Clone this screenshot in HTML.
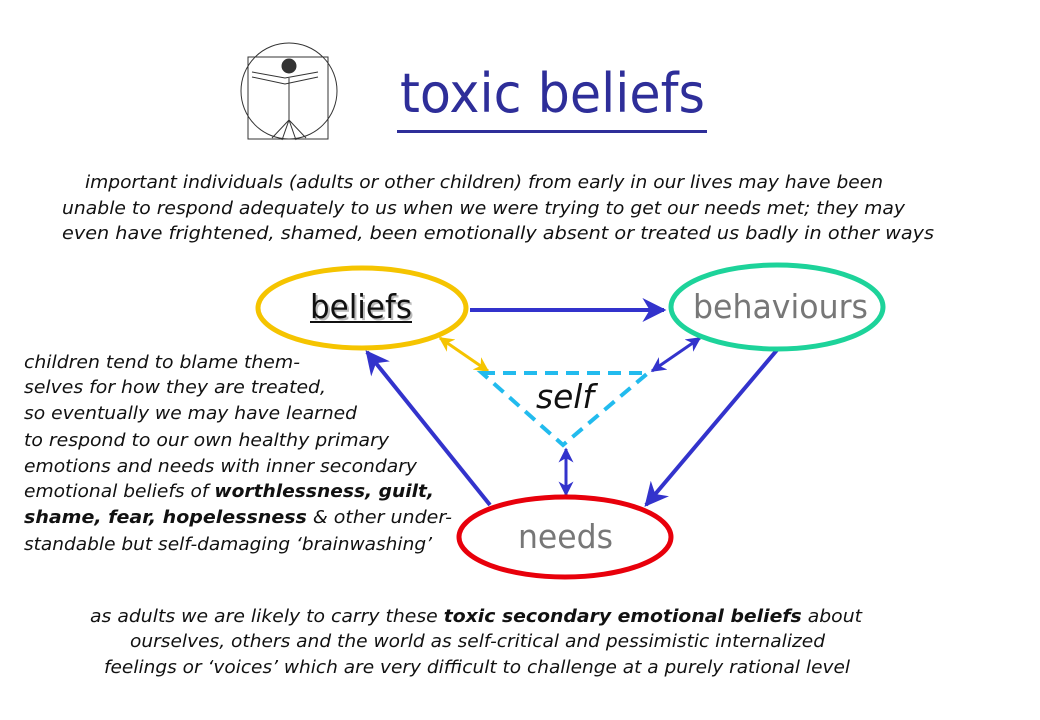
<!DOCTYPE html>
<html><head><meta charset="utf-8"><style>
html,body{margin:0;padding:0;background:#fff;}
svg{display:block;}
text{font-family:"DejaVu Sans","Liberation Sans",sans-serif;}
.it{font-style:italic;font-size:18px;fill:#111;}
</style></head><body>
<svg width="1040" height="720" viewBox="0 0 1040 720" xmlns="http://www.w3.org/2000/svg">
<defs>
<marker id="ab" viewBox="0 0 10 10" refX="9" refY="5" markerWidth="6" markerHeight="6" orient="auto-start-reverse"><path d="M0,0 L10,5 L0,10 L3,5 z" fill="#3333CC"/></marker>
<marker id="as" viewBox="0 0 10 10" refX="9" refY="5" markerWidth="5" markerHeight="5" orient="auto-start-reverse"><path d="M0,0 L10,5 L0,10 L3,5 z" fill="#3333CC"/></marker>
<marker id="ay" viewBox="0 0 10 10" refX="9" refY="5" markerWidth="5" markerHeight="5" orient="auto-start-reverse"><path d="M0,0 L10,5 L0,10 L3,5 z" fill="#F5C400"/></marker>
</defs>
<g stroke="#333" fill="none" stroke-width="1">
<rect x="248" y="57" width="80" height="82"/>
<circle cx="289" cy="91" r="48"/>
<path d="M252,72 L285,78 L318,72 M252,77 L285,84 L318,77 M289,78 L289,120 M289,120 L272,138 M289,120 L306,138 M289,120 L282,140 M289,120 L296,140"/>
<circle cx="289" cy="66" r="7" fill="#333"/>
</g>
<text x="400" y="112" font-size="54" fill="#2E2E99" textLength="305" lengthAdjust="spacingAndGlyphs">toxic beliefs</text>
<rect x="397" y="130" width="310" height="3" fill="#2E2E99"/>
<text class="it" x="85" y="188" textLength="798" lengthAdjust="spacingAndGlyphs">important individuals (adults or other children) from early in our lives may have been</text>
<text class="it" x="62" y="214" textLength="843" lengthAdjust="spacingAndGlyphs">unable to respond adequately to us when we were trying to get our needs met; they may</text>
<text class="it" x="62" y="239" textLength="872" lengthAdjust="spacingAndGlyphs">even have frightened, shamed, been emotionally absent or treated us badly in other ways</text>
<g stroke="#3333CC" stroke-width="4" fill="none">
<line x1="470" y1="310" x2="664" y2="310" marker-end="url(#ab)"/>
<line x1="490" y1="505" x2="367" y2="352" marker-end="url(#ab)"/>
<line x1="777" y1="350" x2="646" y2="505" marker-end="url(#ab)"/>
<line x1="652" y1="371" x2="700" y2="338" stroke-width="3" marker-start="url(#as)" marker-end="url(#as)"/>
<line x1="566" y1="449" x2="566" y2="495" stroke-width="3" marker-start="url(#as)" marker-end="url(#as)"/>
</g>
<line x1="440" y1="338" x2="488" y2="371" stroke="#F5C400" stroke-width="3" marker-start="url(#ay)" marker-end="url(#ay)"/>
<polygon points="482,373 648,373 563,445" fill="none" stroke="#22BBEE" stroke-width="4" stroke-dasharray="13,8"/>
<ellipse cx="362" cy="308" rx="104" ry="40" fill="none" stroke="#F5C400" stroke-width="5"/>
<ellipse cx="777" cy="307" rx="106" ry="42" fill="none" stroke="#1DD39A" stroke-width="5"/>
<ellipse cx="565" cy="537" rx="106" ry="40" fill="none" stroke="#E8000B" stroke-width="5"/>
<text x="312" y="320" font-size="33" fill="#bbb" textLength="102" lengthAdjust="spacingAndGlyphs">beliefs</text>
<text x="310" y="318" font-size="33" fill="#111" textLength="102" lengthAdjust="spacingAndGlyphs">beliefs</text>
<rect x="310" y="321" width="102" height="2" fill="#111"/>
<text x="693" y="318" font-size="33" fill="#777" textLength="175" lengthAdjust="spacingAndGlyphs">behaviours</text>
<text x="518" y="548" font-size="33" fill="#777" textLength="95" lengthAdjust="spacingAndGlyphs">needs</text>
<text x="536" y="408" font-size="33" font-style="italic" fill="#111" textLength="58" lengthAdjust="spacingAndGlyphs">self</text>
<text class="it" x="24" y="368" textLength="276" lengthAdjust="spacingAndGlyphs">children tend to blame them-</text>
<text class="it" x="24" y="393" textLength="302" lengthAdjust="spacingAndGlyphs">selves for how they are treated,</text>
<text class="it" x="24" y="419" textLength="333" lengthAdjust="spacingAndGlyphs">so eventually we may have learned</text>
<text class="it" x="24" y="446" textLength="365" lengthAdjust="spacingAndGlyphs">to respond to our own healthy primary</text>
<text class="it" x="24" y="472" textLength="393" lengthAdjust="spacingAndGlyphs">emotions and needs with inner secondary</text>
<text class="it" x="24" y="497" textLength="410" lengthAdjust="spacingAndGlyphs">emotional beliefs of <tspan font-weight="bold">worthlessness, guilt,</tspan></text>
<text class="it" x="24" y="523" textLength="428" lengthAdjust="spacingAndGlyphs"><tspan font-weight="bold">shame, fear, hopelessness</tspan>  &amp; other under-</text>
<text class="it" x="24" y="550" textLength="408" lengthAdjust="spacingAndGlyphs">standable but self-damaging ‘brainwashing’</text>
<text class="it" x="90" y="622" textLength="772" lengthAdjust="spacingAndGlyphs">as adults we are likely to carry these <tspan font-weight="bold">toxic secondary emotional beliefs</tspan> about</text>
<text class="it" x="130" y="647" textLength="695" lengthAdjust="spacingAndGlyphs">ourselves, others and the world as self-critical and pessimistic internalized</text>
<text class="it" x="104" y="673" textLength="746" lengthAdjust="spacingAndGlyphs">feelings or ‘voices’ which are very difficult to challenge at a purely rational level</text>
</svg>
</body></html>
